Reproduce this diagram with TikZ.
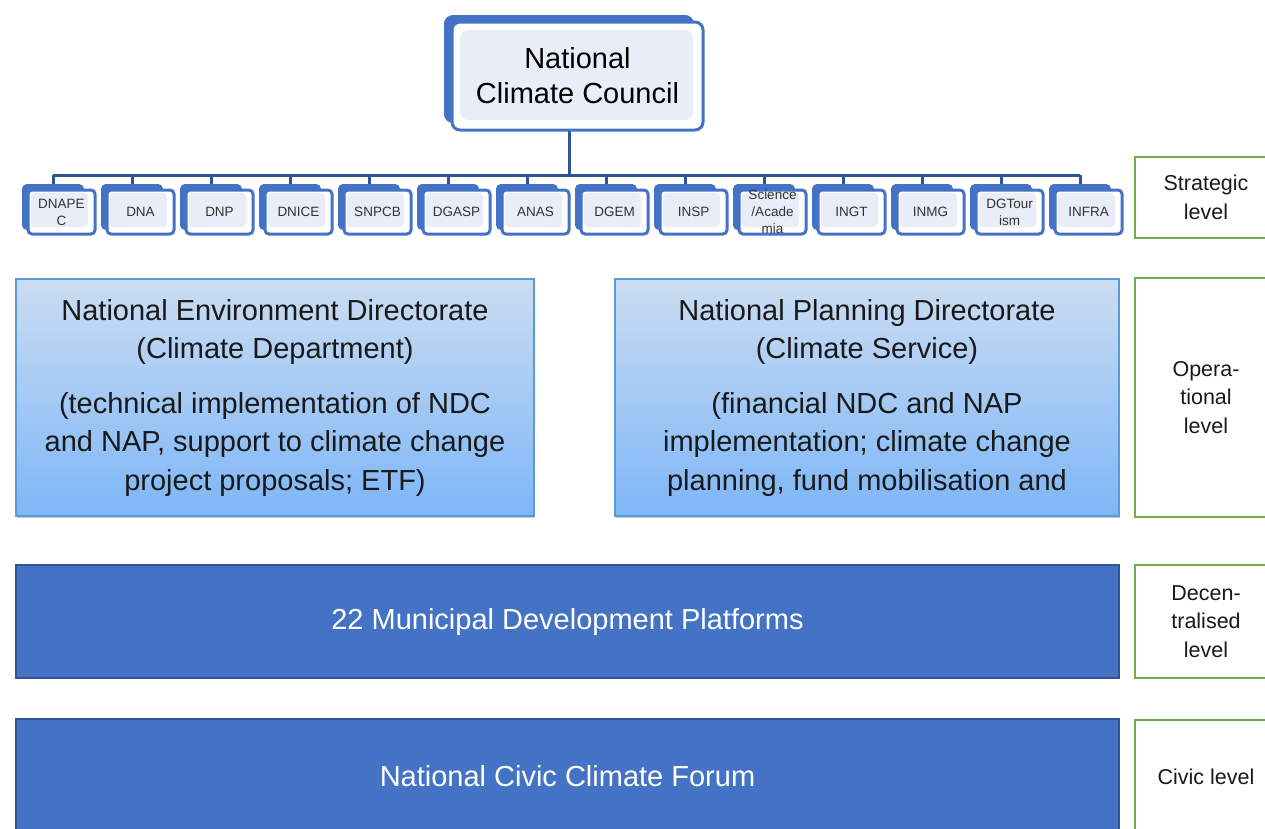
\documentclass[tikz,border=0pt]{standalone}
\usepackage{fontspec}
\setmainfont{Liberation Sans}
\usetikzlibrary{positioning, shadows, backgrounds}
\definecolor{orgblue}{HTML}{4472C4}
\definecolor{busblue}{HTML}{2F5597}
\definecolor{paleblue}{HTML}{E9EDF7}
\definecolor{levelgreen}{HTML}{70AD47}
\definecolor{gradtop}{HTML}{CBDDF2}
\definecolor{gradbot}{HTML}{7DB6F7}
\definecolor{gradedge}{HTML}{5B9BD5}

\begin{document}
\begin{tikzpicture}[x=1pt, y=-1pt,
    backbox/.style={rectangle, rounded corners=4pt, fill=orgblue, draw=orgblue, line width=2pt},
    frontbox/.style={rectangle, rounded corners=4pt, fill=white, draw=orgblue, line width=3pt,
        inner sep=0pt, align=center, text=black!80,
        path picture={\fill[paleblue] ([shift={(3pt,-3pt)}]path picture bounding box.north west)
            rectangle ([shift={(-7pt,7pt)}]path picture bounding box.south east);}},
    opbox/.style={rectangle, draw=gradedge, line width=1.2pt, top color=gradtop, bottom color=gradbot,
        align=center, text=black!90, font=\fontsize{29}{38.5}\selectfont,
        drop shadow={shadow xshift=1pt, shadow yshift=-2pt, opacity=0.35, fill=black!60}},
    wideblue/.style={rectangle, draw=busblue, line width=1.5pt, fill=orgblue, text=white,
        font=\fontsize{29}{35}\selectfont, minimum width=1103, minimum height=113},
    levelbox/.style={rectangle, draw=levelgreen, line width=2.5pt, fill=white, align=center,
        text=black!90, font=\fontsize{21.5}{28.5}\selectfont, minimum width=142},
    link/.style={draw=busblue, line width=3pt}
]
    \useasboundingbox (0,0) rectangle (1265,828);
    \clip (0,0) rectangle (1265,828);

    % Council at the top
    \node[backbox, rounded corners=8pt, minimum width=248, minimum height=106] (nccb) at (569,69) {};
    \node[frontbox, rounded corners=8pt, minimum width=251, minimum height=108,
        font=\fontsize{29}{35}\selectfont, text=black,
        path picture={\fill[paleblue] ([shift={(8pt,-8pt)}]path picture bounding box.north west)
            rectangle ([shift={(-10pt,10pt)}]path picture bounding box.south east);}]
        (ncc) at (577.5,76) {National\\Climate Council};
    \coordinate (bus) at (568,175);

    % Member bodies
    \foreach \lbl [count=\i] in {DNAPE\\C, DNA, DNP, DNICE, SNPCB, DGASP, ANAS, DGEM, INSP,
        Science\\/Acade\\mia, INGT, INMG, DGTour\\ism, INFRA} {
        \pgfmathsetmacro\tx{53+79*(\i-1)}
        \node[backbox, minimum width=60, minimum height=44] (b\i) at (\tx,207) {};
        \node[frontbox, minimum width=67, minimum height=44, font=\fontsize{13.5}{17}\selectfont]
            (f\i) at (\tx+8.5,212) {\lbl};
    }

    % Connectors
    \begin{scope}[on background layer]
        \draw[link] (nccb.south) -- (nccb.south |- bus);
        \draw[link] (b1.north |- bus) -- (b14.north |- bus);
        \foreach \i in {1,...,14}
            \draw[link] (b\i.north) -- (b\i.north |- bus);
    \end{scope}

    % Operational directorates
    \node[opbox, minimum width=518, minimum height=237] (ned) at (275,397.5)
        {National Environment Directorate\\(Climate Department)\\[16pt]
         (technical implementation of NDC\\and NAP, support to climate change\\project proposals; ETF)};
    \node[opbox, minimum width=504, minimum height=237] (npd) at (867,397.5)
        {National Planning Directorate\\(Climate Service)\\[16pt]
         (financial NDC and NAP\\implementation; climate change\\planning, fund mobilisation and};

    % Decentralised and civic bodies
    \node[wideblue] (mdp) at (567.5,621.5) {22 Municipal Development Platforms};
    \node[wideblue, minimum height=115] (forum) at (567.5,776.5) {National Civic Climate Forum};

    % Level labels
    \node[levelbox, minimum height=81] (lvstrat) at (1206,197.5) {Strategic\\level};
    \node[levelbox, minimum height=239] (lvop) at (1206,397.5) {Opera-\\tional\\level};
    \node[levelbox, minimum height=113] (lvdec) at (1206,621.5) {Decen-\\tralised\\level};
    \node[levelbox, minimum height=114] (lvciv) at (1206,777) {Civic level};
\end{tikzpicture}
\end{document}
